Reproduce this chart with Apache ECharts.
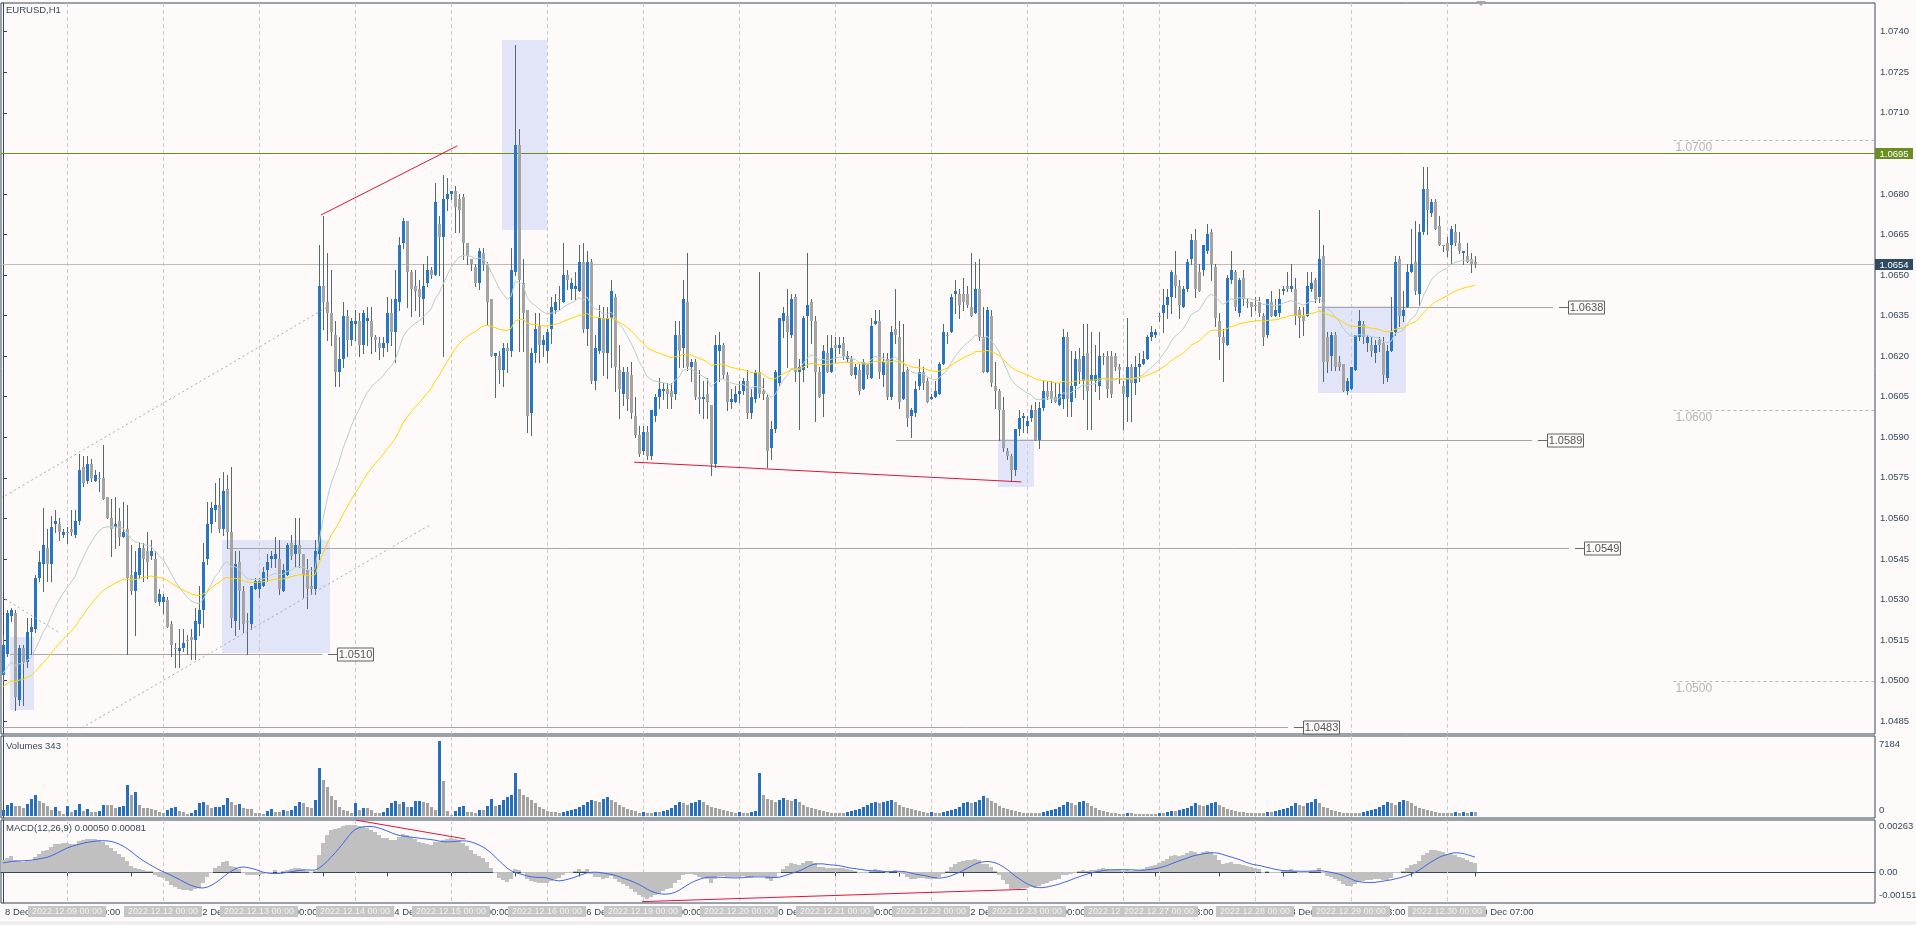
<!DOCTYPE html>
<html>
<head>
<meta charset="utf-8">
<title>EURUSD,H1</title>
<script src="https://cdn.jsdelivr.net/npm/echarts@6.0.0/dist/echarts.min.js"></script>
<style>
html,body{margin:0;padding:0;background:#fffafa;overflow:hidden;}
#chart{width:1916px;height:925px;}
</style>
</head>
<body>
<div id="chart"></div>
<script>
// ================= DATA (prices in pips above 1.0000: 513 -> 1.0513) =================
const openPips = [
502,510,524,525,493,512,507,518,519,538,
543,549,543,558,558,554,555,556,554,559,
579,574,580,574,575,575,568,560,557,559,
553,556,539,533,539,549,548,546,545,529,
529,530,521,512,511,512,515,516,515,521,
526,545,558,563,565,556,571,555,522,544,
533,522,521,534,534,535,541,545,545,545,
533,539,551,547,550,547,541,535,534,547,
646,640,636,628,614,619,635,626,632,633,
624,633,633,627,625,623,625,636,629,640,
662,670,651,646,645,641,647,652,650,669,
664,678,680,681,678,679,662,656,653,647,
658,654,641,620,620,615,623,622,651,698,
647,637,599,621,631,624,622,630,637,641,
640,650,645,645,644,655,630,655,611,622,
634,621,634,642,615,606,614,613,598,591,
585,592,583,598,605,607,608,607,606,628,
623,640,616,618,605,604,606,602,580,622,
624,613,603,603,606,607,611,599,604,614,
607,605,586,593,610,633,635,628,642,614,
615,635,640,633,614,606,621,614,624,623,
625,619,619,613,615,608,617,612,632,633,
613,619,605,630,627,604,615,598,599,609,
614,611,604,605,606,617,628,629,643,643,
643,643,638,636,645,627,614,635,609,607,
600,585,583,578,593,597,594,597,600,589,
601,607,607,605,602,604,627,603,609,619,
611,621,611,611,609,620,620,620,620,616,
609,605,616,610,616,617,619,627,628,635,
636,639,642,650,646,638,645,656,663,651,
652,659,666,653,633,627,624,648,651,636,
649,640,640,639,640,635,628,640,635,636,
644,646,645,645,637,635,635,645,648,642,
657,627,620,628,618,617,607,608,615,627,
632,625,624,621,626,625,612,622,629,656,
635,638,651,655,643,666,682,673,677,668,
661,662,661,666,662,658,657,656,655
];
const closePips = [
513,525,526,494,512,507,518,520,538,544,
550,543,557,559,555,555,555,555,559,578,
573,580,575,576,575,567,560,556,558,553,
555,538,533,540,549,545,544,548,529,532,
531,520,513,512,512,514,515,515,522,526,
544,558,564,565,556,570,555,523,543,533,
521,522,535,537,537,540,544,546,547,534,
541,550,546,550,547,539,534,534,548,646,
640,636,629,614,619,635,626,633,633,624,
636,634,627,626,623,625,636,629,641,661,
670,651,645,644,642,646,652,650,677,664,
678,680,681,675,674,662,657,654,647,659,
654,640,620,621,615,623,622,652,698,648,
636,598,621,630,624,626,629,638,640,641,
650,648,647,646,655,630,655,611,623,634,
621,634,644,616,608,614,604,599,591,584,
592,583,600,605,608,608,606,605,628,622,
641,616,618,605,604,605,603,580,624,624,
613,603,604,606,607,611,599,605,614,606,
606,585,593,614,634,636,629,641,614,616,
634,639,633,614,605,622,614,623,623,624,
620,620,613,616,607,618,613,631,633,614,
618,605,629,628,603,614,597,600,608,614,
610,603,605,607,617,629,628,642,644,639,
640,639,635,645,627,614,637,610,607,600,
586,583,578,593,597,598,596,600,589,601,
607,605,604,603,606,627,604,609,619,614,
620,607,613,613,620,620,608,606,616,615,
606,616,610,616,617,619,627,629,629,635,
639,642,651,646,639,645,655,663,645,644,
661,665,654,634,627,625,649,652,638,648,
641,640,638,639,636,627,641,635,637,641,
645,645,646,635,634,633,646,647,641,656,
618,618,628,616,616,607,611,616,628,633,
627,627,622,624,624,613,622,629,655,635,
637,651,654,644,666,682,674,677,667,661,
661,659,667,662,659,659,655,654,654
];
const highPips = [
517,526,527,526,513,513,523,523,539,548,
564,556,561,563,560,556,557,563,563,584,
583,583,582,578,577,587,568,567,568,564,
566,565,550,548,551,551,555,552,548,534,
532,531,522,514,519,519,517,519,527,535,
551,566,566,573,575,577,576,579,548,548,
535,525,535,538,538,542,547,548,553,552,
543,551,554,560,560,547,545,542,552,661,
672,658,652,633,627,640,637,634,637,636,
637,638,638,628,627,627,642,641,652,664,
671,670,652,652,648,654,657,653,684,672,
687,686,681,683,680,680,662,656,654,660,
660,655,641,621,622,625,625,660,735,704,
656,637,623,636,636,628,630,642,643,646,
662,652,649,651,661,662,659,656,628,639,
638,638,648,643,624,616,616,618,605,594,
594,594,600,606,612,610,610,610,633,633,
648,658,619,619,615,611,612,602,628,629,
625,614,608,609,611,612,615,608,615,651,
612,606,596,615,634,638,645,643,643,619,
635,658,641,635,616,624,628,628,627,627,
627,622,620,617,617,619,617,634,637,637,
621,621,631,645,633,632,616,601,611,619,
616,612,606,611,618,632,629,643,648,645,
649,646,658,655,656,638,638,637,618,608,
605,586,584,593,600,599,598,602,603,603,
611,611,611,610,610,630,629,622,622,623,
632,632,629,624,629,621,622,622,621,617,
611,634,617,620,621,622,628,631,630,636,
645,645,652,659,648,646,656,665,667,654,
661,669,667,654,636,630,650,659,652,649,
652,641,640,642,642,636,641,644,641,645,
646,651,654,649,638,638,651,651,649,674,
661,629,629,629,620,617,612,616,628,637,
633,628,627,626,627,627,624,642,657,657,
644,654,667,670,669,690,690,678,678,672,
661,664,668,669,666,659,662,658,657
];
const lowPips = [
500,509,522,489,491,491,505,510,518,537,
533,537,537,555,552,553,551,554,553,558,
572,573,574,574,570,567,560,546,549,550,
553,510,532,517,538,537,538,545,529,528,
525,520,509,505,505,511,510,508,508,517,
520,543,555,559,555,554,549,520,517,519,
518,510,519,534,531,535,537,542,542,532,
533,539,545,542,542,531,527,532,532,545,
630,626,624,609,609,616,620,624,626,620,
621,624,621,622,619,620,622,624,618,637,
660,638,635,637,635,632,646,649,650,650,
620,674,678,666,666,656,654,652,646,645,
652,632,620,605,610,609,614,620,650,622,
622,592,591,618,618,620,618,625,636,637,
640,645,641,641,644,629,624,610,608,621,
613,612,616,607,597,602,600,597,590,583,
584,582,582,596,601,604,601,601,604,616,
616,615,611,604,599,597,597,576,579,611,
612,600,601,603,603,606,597,597,603,605,
604,579,582,592,609,627,616,627,611,593,
611,616,625,596,605,598,614,614,618,621,
619,618,613,612,606,608,612,612,632,612,
609,604,604,625,601,604,594,590,598,608,
608,603,604,605,606,617,625,629,636,634,
637,638,635,636,626,614,614,609,601,589,
585,582,574,576,591,592,592,596,589,586,
600,604,603,603,602,601,598,598,605,610,
604,593,593,607,604,617,605,605,615,610,
593,596,596,606,611,617,619,626,627,633,
629,634,636,642,634,638,644,654,642,644,
650,658,648,631,619,611,624,647,637,635,
639,638,635,637,635,624,627,635,635,635,
643,644,644,632,627,628,635,644,640,640,
611,614,615,615,615,607,606,608,615,626,
625,622,620,618,622,610,611,622,628,631,
633,638,651,643,639,665,665,672,667,661,
659,657,654,661,658,654,655,651,653
];
const volumes = [
580,1063,1288,966,966,741,1159,1610,2029,1481,
1288,966,580,837,483,193,966,419,580,1159,
483,644,419,419,515,1063,1063,1063,805,837,
966,2995,2029,2254,1063,741,741,644,580,419,
322,580,741,837,483,419,193,322,580,1288,
1385,1063,741,837,902,1063,1707,1385,1063,1159,
741,644,644,322,322,193,483,644,419,419,
580,515,580,966,1385,1224,837,741,1500,4605,
3478,2769,1900,1546,902,580,483,258,1288,580,
741,741,580,322,322,419,741,1288,1449,1159,
1385,837,902,1449,1481,1385,1224,837,580,7184,
3317,515,97,483,902,966,419,419,322,580,
580,966,1642,966,1063,
1500,1800,2000,4100,2600,2000,1800,1500,1200,900,700,
500,400,400,300,400,500,600,700,900,1100,1300,1500,1400,1300,1600,1800,1500,1300,1100,900,700,600,500,300,
400,300,300,400,400,500,600,800,1100,1300,1200,1100,1200,1300,1500,1300,1100,900,800,700,600,500,400,300,
400,300,300,400,500,4100,2000,1600,1500,1300,1500,1700,1500,1400,1600,1300,1100,900,800,700,600,500,400,300,
300,300,300,400,500,600,700,900,1100,1200,1300,1200,1300,1400,1500,1300,1100,900,800,700,600,500,400,300,
400,300,300,400,500,600,700,900,1200,1300,1200,1300,1500,1900,1700,1400,1200,1000,800,700,600,500,400,300,
300,300,300,300,400,500,600,700,900,1100,1300,1200,1100,1300,1400,1200,1000,800,600,500,400,300,300,200,
200,300,300,200,200,200,200,200,200,
300,300,400,500,500,600,700,800,1000,1200,1100,1000,1100,1200,1300,1100,900,700,600,500,400,400,300,300,
300,300,300,400,400,500,600,700,800,1000,1200,1100,1000,1200,1300,1600,1200,900,800,600,500,400,300,300,
300,300,300,400,500,600,700,900,1100,1300,1200,1100,1300,1500,1400,1200,1000,800,700,600,500,400,300,300,
300,300,400,300,400,300,400,343
];
// trading sessions: date, first hour, number of H1 bars
const sessions = [
['2022.12.08',8,16],['2022.12.09',0,24],['2022.12.12',0,24],['2022.12.13',0,24],['2022.12.14',0,24],
['2022.12.15',0,24],['2022.12.16',0,24],['2022.12.19',0,24],['2022.12.20',0,24],['2022.12.21',0,24],
['2022.12.22',0,24],['2022.12.23',0,24],['2022.12.26',0,9],['2022.12.27',0,24],['2022.12.28',0,24],
['2022.12.29',0,24],['2022.12.30',0,8]
];
const priceTicks = [1.0485,1.0500,1.0515,1.0530,1.0545,1.0560,1.0575,1.0590,1.0605,1.0620,1.0635,1.0650,1.0665,1.0680,1.0695,1.0710,1.0725,1.0740];
const volumeTicks = [0, 7184];
const macdTicks = [-0.00151, 0, 0.00263];
const macdTickLabels = ['-0.00151', '0.00', '0.00263'];
const vlineTimes = ['2022.12.09 00:00','2022.12.12 00:00','2022.12.13 00:00','2022.12.14 00:00','2022.12.15 00:00',
'2022.12.16 00:00','2022.12.19 00:00','2022.12.20 00:00','2022.12.21 00:00','2022.12.22 00:00','2022.12.23 00:00',
'2022.12.26 00:00','2022.12.27 00:00','2022.12.28 00:00','2022.12.29 00:00','2022.12.30 00:00'];
const greenLevel = 1.0695;
const bidPrice = 1.0654;
const levelPrices = [1.0638, 1.0589, 1.0549, 1.0510, 1.0483];
const levelFrom = [328.75, 223.25, 56, 1.75, -0.5];
const levelTo = [387.6, 382.3, 391.5, 79.7, 321.25];
const roundLevels = [1.0700, 1.0600, 1.0500];
const roundLevelFrom = 417.6;
const rectBoxes = [[1.75,1.05162,7.75,1.04892],[54.75,1.0552,81.75,1.05102],[124.7,1.0737,135.9,1.06666],[248.75,1.05894,257.75,1.05715],[328.75,1.06386,350.75,1.06064]];
const redTrends = [[[79.5,1.06722],[113.6,1.06978]], [[157.8,1.05808],[254.6,1.05735]]];
const dashedTrends = [[[-0.5,1.05675],[81.25,1.06383]], [[19.7,1.04825],[106.75,1.05576]], [[-0.5,1.05311],[14.25,1.05175]]];
const macdRedTrends = [[[88.1,0.00268],[115.6,0.00171]], [[159.75,-0.00149],[255.9,-0.00086]]];
// indicator values read at the first visible bar (history before it is off-screen)
const maFastStart = 1.05027, maSlowStart = 1.04978;
const macdFastStart = 1.0506, macdSlowStart = 1.04996, macdSignalStart = 0.00047;
const macdTitle = 'MACD(12,26,9) 0.00050 0.00081';

// ================= BUILD =================
const toPrice = p => 1 + p / 10000;
const nBars = openPips.length;
[closePips, highPips, lowPips, volumes].forEach((a, k) => { if (a.length !== nBars) throw new Error('length mismatch ' + k + ': ' + a.length + ' vs ' + nBars); });
const barTime = [], barLabel = [];
sessions.forEach(([date, first, count]) => {
  const d = parseInt(date.slice(8), 10);
  for (let h = first; h < first + count; h++) {
    const hh = String(h).padStart(2, '0') + ':00';
    barTime.push(date + ' ' + hh);
    barLabel.push(d + ' Dec ' + hh);
  }
});
if (barTime.length !== nBars) throw new Error('sessions ' + barTime.length);
const ohlc = openPips.map((o, i) => [i, toPrice(o), toPrice(closePips[i]), toPrice(lowPips[i]), toPrice(highPips[i])]);
const closes = closePips.map(toPrice);
function emaFrom(src, period, start) {
  const a = 2 / (period + 1); let e = start;
  return src.map((v, i) => (i === 0 ? e : (e = e + a * (v - e))));
}
const maFast = emaFrom(closes, 20, maFastStart);
const maSlow = emaFrom(closes, 50, maSlowStart);
const ema12 = emaFrom(closes, 12, macdFastStart);
const ema26 = emaFrom(closes, 26, macdSlowStart);
const macdMain = ema12.map((v, i) => v - ema26[i]);
const macdSignal = macdMain.map((v, i) => {
  let s = 0;
  for (let k = i - 8; k <= i; k++) s += k < 0 ? macdSignalStart : macdMain[k];
  return s / 9;
});
const tickIdx = [];
for (let i = 0; i < nBars; i += 16) tickIdx.push(i);
const vlineIdx = vlineTimes.map(t => barTime.indexOf(t));

// ================= STYLE =================
const FRAME = '#34495e', TXT = '#34495e', FONT = '"Liberation Sans", Arial, sans-serif';
const BULL = '#2677c3', BEAR = '#a4a4a4', WICK = '#56696c';
const X_MIN = -0.5, X_MAX = 468;

const chart = echarts.init(document.getElementById('chart'), null, { renderer: 'canvas' });

function xAxisHidden(g) { return { gridIndex: g, type: 'value', min: X_MIN, max: X_MAX, show: false }; }
function vlineSeries(xi, yi) {
  return {
    type: 'custom', xAxisIndex: xi, yAxisIndex: yi, z: 1, silent: true, clip: true,
    data: vlineIdx.map(i => [i]), encode: { x: 0 },
    renderItem: (params, api) => {
      const cs = params.coordSys;
      const x = Math.round(api.coord([api.value(0), 0])[0]) + 0.5;
      return { type: 'line', shape: { x1: x, y1: cs.y, x2: x, y2: cs.y + cs.height }, style: { stroke: '#cccccc', lineWidth: 1, lineDash: [4, 3] } };
    }
  };
}
function trendSeries(pts, xi, yi, color, dash, z) {
  return {
    type: 'line', xAxisIndex: xi, yAxisIndex: yi, data: pts, showSymbol: false, symbol: 'none', silent: true, z: z,
    lineStyle: { color: color, width: 1, type: dash ? [2, 3] : 'solid' }, animation: false
  };
}

const series = [];
// shaded rectangles
series.push({
  type: 'custom', xAxisIndex: 0, yAxisIndex: 0, z: 1, silent: true, clip: true,
  data: rectBoxes, encode: { x: [0, 2], y: [1, 3] },
  renderItem: (params, api) => {
    const a = api.coord([api.value(0), api.value(1)]), b = api.coord([api.value(2), api.value(3)]);
    return { type: 'rect', shape: { x: Math.round(a[0]), y: Math.round(a[1]), width: Math.round(b[0] - a[0]), height: Math.round(b[1] - a[1]) }, style: { fill: '#e2e5f8' } };
  }
});
series.push(vlineSeries(0, 0));
// round-number dashed levels with labels
series.push({
  type: 'custom', xAxisIndex: 0, yAxisIndex: 0, z: 2, silent: true,
  data: roundLevels.map(p => [roundLevelFrom, p]), encode: { x: 0, y: 1 },
  renderItem: (params, api) => {
    const cs = params.coordSys;
    const p = api.coord([api.value(0), api.value(1)]);
    const y = Math.round(p[1]) + 0.5;
    return { type: 'group', children: [
      { type: 'line', shape: { x1: p[0], y1: y, x2: cs.x + cs.width, y2: y }, style: { stroke: '#b8b8b8', lineWidth: 1, lineDash: [3, 3] } },
      { type: 'text', style: { text: api.value(1).toFixed(4), x: p[0] + 2, y: y + 1, align: 'left', verticalAlign: 'top', fill: '#b4b4b4', font: '12px ' + FONT } }
    ] };
  }
});
// horizontal level objects with price boxes
series.push({
  type: 'custom', xAxisIndex: 0, yAxisIndex: 0, z: 3, silent: true, clip: false,
  data: levelPrices.map((p, i) => [levelFrom[i], p, levelTo[i]]), encode: { x: [0, 2], y: 1 },
  renderItem: (params, api) => {
    const cs = params.coordSys;
    const a = api.coord([api.value(0), api.value(1)]), b = api.coord([api.value(2), api.value(1)]);
    const y = Math.round(a[1]) + 0.5, x1 = Math.max(cs.x, a[0]), x2 = Math.round(b[0]);
    return { type: 'group', children: [
      { type: 'line', shape: { x1: x1, y1: y, x2: x2, y2: y }, style: { stroke: '#a6a6a6', lineWidth: 1 } },
      { type: 'line', shape: { x1: x2 + 6, y1: y, x2: x2 + 15, y2: y }, style: { stroke: '#6a6a6a', lineWidth: 1 } },
      { type: 'rect', shape: { x: x2 + 15.5, y: y - 6.5, width: 36, height: 13 }, style: { fill: '#fffafa', stroke: '#606060', lineWidth: 1 } },
      { type: 'text', style: { text: api.value(1).toFixed(4), x: x2 + 33.5, y: y + 0.5, align: 'center', verticalAlign: 'middle', fill: '#555555', font: '11px ' + FONT } }
    ] };
  }
});
// full-width green level and bid line with axis boxes
series.push({
  type: 'custom', xAxisIndex: 0, yAxisIndex: 0, z: 3, silent: true, clip: false,
  data: [[0, greenLevel, 0], [0, bidPrice, 1]], encode: { y: 1 },
  renderItem: (params, api) => {
    const cs = params.coordSys;
    const y = Math.round(api.coord([0, api.value(1)])[1]) + 0.5;
    const green = api.value(2) === 0;
    const right = cs.x + cs.width;
    return { type: 'group', children: [
      { type: 'line', shape: { x1: cs.x, y1: y, x2: right, y2: y }, style: { stroke: green ? '#6b8e23' : '#bdbdbd', lineWidth: 1 } },
      { type: 'rect', shape: { x: right, y: y - 5.5, width: 38, height: 11 }, style: { fill: green ? '#6b8e23' : '#2f4b61' } },
      { type: 'text', style: { text: api.value(1).toFixed(4), x: right + 19, y: y + 0.5, align: 'center', verticalAlign: 'middle', fill: '#ffffff', font: '9.5px ' + FONT } }
    ] };
  }
});
// candles
series.push({
  type: 'custom', xAxisIndex: 0, yAxisIndex: 0, z: 4, silent: true, clip: true,
  data: ohlc, encode: { x: 0, y: [1, 2, 3, 4] },
  renderItem: (params, api) => {
    const i = api.value(0), o = api.value(1), c = api.value(2), l = api.value(3), h = api.value(4);
    const po = api.coord([i, o]), pc = api.coord([i, c]);
    const ph = api.coord([i, Math.max(h, o, c)]), pl = api.coord([i, Math.min(l, o, c)]);
    const cx = Math.round(po[0]);
    const top = Math.round(Math.min(po[1], pc[1])), bot = Math.round(Math.max(po[1], pc[1]));
    return { type: 'group', children: [
      { type: 'line', shape: { x1: cx + 0.5, y1: Math.round(ph[1]), x2: cx + 0.5, y2: Math.round(pl[1]) + 1 }, style: { stroke: WICK, lineWidth: 1 } },
      { type: 'rect', shape: { x: cx - 1, y: top, width: 3, height: Math.max(1, bot - top) }, style: { fill: c > o ? BULL : BEAR } }
    ] };
  }
});
series.push({ type: 'line', xAxisIndex: 0, yAxisIndex: 0, z: 5, silent: true, showSymbol: false, symbol: 'none', data: maFast.map((v, i) => [i, v]), lineStyle: { color: '#b7cfcb', width: 1 } });
series.push({ type: 'line', xAxisIndex: 0, yAxisIndex: 0, z: 5, silent: true, showSymbol: false, symbol: 'none', data: maSlow.map((v, i) => [i, v]), lineStyle: { color: '#ffd400', width: 1 } });
redTrends.forEach(t => series.push(trendSeries(t, 0, 0, '#dc143c', false, 6)));
dashedTrends.forEach(t => series.push(trendSeries(t, 0, 0, '#a8a8a8', true, 6)));

// volumes
series.push(vlineSeries(1, 1));
series.push({
  type: 'custom', xAxisIndex: 1, yAxisIndex: 1, z: 4, silent: true, clip: true,
  data: volumes.map((v, i) => [i, v]), encode: { x: 0, y: 1 },
  renderItem: (params, api) => {
    const i = api.value(0), v = api.value(1);
    const p0 = api.coord([i, 0]), p1 = api.coord([i, v]);
    const cx = Math.round(p0[0]);
    const up = i === 0 || v > volumes[i - 1];
    return { type: 'rect', shape: { x: cx - 1, y: Math.round(p1[1]), width: 3, height: Math.round(p0[1]) - Math.round(p1[1]) }, style: { fill: up ? '#2570b8' : '#a2a2a2' } };
  }
});

// MACD
series.push(vlineSeries(2, 2));
series.push({
  type: 'custom', xAxisIndex: 2, yAxisIndex: 2, z: 3, silent: true, clip: true,
  data: macdMain.map((v, i) => [i, v]), encode: { x: 0, y: 1 },
  renderItem: (params, api) => {
    const i = api.value(0), v = api.value(1);
    const p0 = api.coord([i, 0]), p1 = api.coord([i, v]);
    const cx = Math.round(p0[0]);
    const y0 = Math.round(p0[1]), y1 = Math.round(p1[1]);
    return { type: 'rect', shape: { x: cx - 2, y: Math.min(y0, y1), width: 4, height: Math.max(1, Math.abs(y1 - y0)) }, style: { fill: '#c0c0c0' } };
  }
});
series.push({ type: 'line', xAxisIndex: 2, yAxisIndex: 2, z: 4, silent: true, showSymbol: false, symbol: 'none', data: macdSignal.map((v, i) => [i, v]), lineStyle: { color: '#4169e1', width: 1 } });
macdRedTrends.forEach(t => series.push(trendSeries(t, 2, 2, '#dc143c', false, 5)));

const axisTxt = { color: TXT, fontSize: 9.5, fontFamily: FONT };
const option = {
  backgroundColor: '#fffafa',
  animation: false,
  textStyle: { fontFamily: FONT },
  grid: [
    { left: 1, top: 3, width: 1874, height: 731, show: true, borderColor: FRAME, borderWidth: 1, outerBoundsMode: 'none' },
    { left: 1, top: 736, width: 1874, height: 82, show: true, borderColor: FRAME, borderWidth: 1, outerBoundsMode: 'none' },
    { left: 1, top: 820, width: 1874, height: 83, show: true, borderColor: FRAME, borderWidth: 1, outerBoundsMode: 'none' }
  ],
  xAxis: [
    xAxisHidden(0), xAxisHidden(1),
    { gridIndex: 2, type: 'value', min: X_MIN, max: X_MAX, position: 'bottom',
      axisLine: { show: true, lineStyle: { color: FRAME } },
      axisTick: { show: true, length: 4, customValues: tickIdx, lineStyle: { color: FRAME } },
      axisLabel: Object.assign({ customValues: tickIdx, align: 'left', margin: 4, padding: [0, 0, 0, 2],
        formatter: v => (v === 0 ? '8 Dec 2022' : barLabel[v]) }, axisTxt),
      splitLine: { show: false } },
    { gridIndex: 2, type: 'value', min: X_MIN, max: X_MAX, position: 'bottom', offset: 0, z: 10,
      axisLine: { show: false }, axisTick: { show: false },
      axisLabel: { customValues: vlineIdx, formatter: v => barTime[v], backgroundColor: '#c6c6c6', color: '#f3f3f3',
        padding: [1, 4, 1, 4], margin: 3, fontSize: 9, fontFamily: FONT },
      splitLine: { show: false } }
  ],
  yAxis: [
    { gridIndex: 0, type: 'value', position: 'right', min: 1.048027, max: 1.075061, scale: true,
      axisLine: { show: true, lineStyle: { color: FRAME } },
      axisTick: { show: true, length: 4, customValues: priceTicks, lineStyle: { color: FRAME } },
      axisLabel: Object.assign({ customValues: priceTicks, margin: 5, formatter: v => v.toFixed(4) }, axisTxt),
      splitLine: { show: false } },
    { gridIndex: 1, type: 'value', position: 'right', min: -190, max: 7650,
      axisLine: { show: true, lineStyle: { color: FRAME } }, axisTick: { show: false },
      axisLabel: Object.assign({ customValues: volumeTicks, margin: 4,
        formatter: v => (v === 0 ? '{b|' + v + '}' : '{t|' + v + '}'),
        rich: { b: { padding: [0, 0, 12, 0], fontSize: 9.5, fontFamily: FONT, color: TXT }, t: { padding: [7, 0, 0, 0], fontSize: 9.5, fontFamily: FONT, color: TXT } } }, axisTxt),
      splitLine: { show: false } },
    { gridIndex: 2, type: 'value', position: 'right', min: -0.00156, max: 0.00268,
      axisLine: { show: true, lineStyle: { color: FRAME } },
      axisTick: { show: true, length: 3, customValues: [0], lineStyle: { color: FRAME } },
      axisLabel: Object.assign({ customValues: macdTicks, margin: 4,
        formatter: v => { const k = macdTicks.indexOf(v); const s = macdTickLabels[k]; return k === 0 ? '{b|' + s + '}' : (k === 2 ? '{t|' + s + '}' : s); },
        rich: { b: { padding: [0, 0, 14, 0], fontSize: 9.5, fontFamily: FONT, color: TXT }, t: { padding: [10, 0, 0, 0], fontSize: 9.5, fontFamily: FONT, color: TXT } } }, axisTxt),
      splitLine: { show: false } }
  ],
  graphic: [
    { type: 'text', left: 6, top: 5, z: 100, style: { text: 'EURUSD,H1', fill: TXT, font: '9.5px ' + FONT } },
    { type: 'text', left: 6, top: 741, z: 100, style: { text: 'Volumes ' + volumes[nBars - 1], fill: TXT, font: '9.5px ' + FONT } },
    { type: 'text', left: 6, top: 823, z: 100, style: { text: macdTitle, fill: TXT, font: '9.5px ' + FONT } },
    { type: 'polygon', z: 100, shape: { points: [[1476, 1], [1486, 1], [1481, 6]] }, style: { fill: '#a8a8a8' } },
    { type: 'rect', z: 0, shape: { x: 0, y: 921, width: 1916, height: 4 }, style: { fill: '#eeeeee' } }
  ],
  series: series
};
chart.setOption(option);
</script>
</body>
</html>
